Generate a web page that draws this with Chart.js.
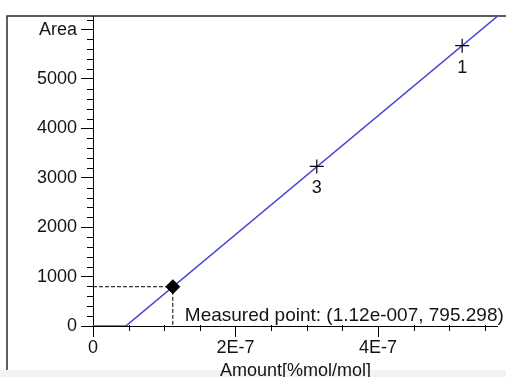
<!DOCTYPE html>
<html>
<head>
<meta charset="utf-8">
<script src="https://cdn.jsdelivr.net/npm/chart.js@4.4.1/dist/chart.umd.min.js"></script>
<style>
  html, body { margin: 0; padding: 0; background: #fff; overflow: hidden; }
  #wrap { width: 506px; height: 377px; position: relative; }
</style>
</head>
<body>
<div id="wrap"><canvas id="cal"></canvas></div>
<script>
// calibration curve (amount vs area)
const curveAmount = [0, 0.46e-7, 5.68e-7];
const curveArea = [0, 0, 6275];

// calibration levels
const calLevels = ['1', '3'];
const calAmount = [5.18e-7, 3.14e-7];
const calArea = [5675, 3230];

// measured sample
const measuredAmount = 1.12e-7;
const measuredArea = 795.298;

const xTickValues = [0, 2e-7, 4e-7];
const xTickLabels = ['0', '2E-7', '4E-7'];
const yTickValues = [0, 1000, 2000, 3000, 4000, 5000, 6000];
const yTickLabels = ['0', '1000', '2000', '3000', '4000', '5000', 'Area'];
const xTitle = 'Amount[%mol/mol]';

const FONT = '"Liberation Sans", Arial, sans-serif';
const FSIZE = 18;
const INK = '#141414';

function pts(xs, ys) {
  return xs.map((x, i) => ({ x, y: ys[i] }));
}

// 1.12e-7 -> 1.12e-007
function sciText(v) {
  const [m, e] = v.toExponential(2).split('e');
  const digits = e.replace(/[+-]/, '').padStart(3, '0');
  return `${m}e${e[0] === '-' ? '-' : ''}${digits}`;
}

const frame = {
  id: 'frame',
  beforeDraw(chart) {
    const { ctx } = chart;
    ctx.save();
    ctx.fillStyle = '#f2f2f2';
    ctx.fillRect(0, 370, chart.width, chart.height - 370);
    ctx.strokeStyle = '#2a2a2a';
    ctx.lineWidth = 1.5;
    ctx.beginPath();
    ctx.moveTo(7, 370);
    ctx.lineTo(7, 16);
    ctx.lineTo(chart.width, 16);
    ctx.stroke();
    ctx.restore();
  },
  afterDraw(chart) {
    const { ctx, chartArea } = chart;
    const x = chart.scales.x;
    const y = chart.scales.y;
    ctx.save();
    ctx.strokeStyle = '#000';
    ctx.lineWidth = 1;
    ctx.beginPath();
    // minor ticks
    for (let v = 200; v < y.max; v += 200) {
      if (v % 1000 === 0) continue;
      const py = Math.round(y.getPixelForValue(v)) + 0.5;
      ctx.moveTo(chartArea.left - 6, py);
      ctx.lineTo(chartArea.left, py);
    }
    for (let i = 1; i * 0.5e-7 < x.max; i += 1) {
      if (i % 4 === 0) continue;
      const px = Math.round(x.getPixelForValue(i * 0.5e-7)) + 0.5;
      ctx.moveTo(px, chartArea.bottom - 1);
      ctx.lineTo(px, chartArea.bottom + 5);
    }
    ctx.stroke();

    // level numbers under the calibration points
    ctx.fillStyle = INK;
    ctx.font = `${FSIZE}px ${FONT}`;
    ctx.textAlign = 'center';
    ctx.textBaseline = 'alphabetic';
    calLevels.forEach((lvl, i) => {
      const px = x.getPixelForValue(calAmount[i]);
      const py = y.getPixelForValue(calArea[i]);
      ctx.fillText(lvl, px, py + 27);
    });

    // measured point caption
    ctx.font = `19px ${FONT}`;
    ctx.textAlign = 'left';
    const mx = x.getPixelForValue(measuredAmount);
    ctx.fillText(`Measured point: (${sciText(measuredAmount)}, ${measuredArea})`,
      mx + 12, chartArea.bottom - 5);
    ctx.restore();
  },
};

new Chart(document.getElementById('cal'), {
  type: 'scatter',
  data: {
    datasets: [
      {
        data: pts(curveAmount, curveArea),
        showLine: true,
        borderColor: '#4848d2',
        borderWidth: 1.6,
        pointRadius: 0,
        order: 3,
      },
      {
        data: pts([0, measuredAmount, measuredAmount], [measuredArea, measuredArea, 0]),
        showLine: true,
        borderColor: '#000',
        borderWidth: 1,
        borderDash: [4, 2],
        pointRadius: 0,
        order: 2,
      },
      {
        data: pts(calAmount, calArea),
        pointStyle: 'cross',
        pointRadius: 7,
        borderColor: '#000',
        borderWidth: 1.2,
        order: 1,
      },
      {
        data: [{ x: measuredAmount, y: measuredArea }],
        pointStyle: 'rectRot',
        pointRadius: 7,
        backgroundColor: '#000',
        borderColor: '#000',
        borderWidth: 1,
        order: 0,
      },
    ],
  },
  options: {
    responsive: true,
    maintainAspectRatio: false,
    animation: false,
    layout: { padding: { top: 16, left: 0, right: 0, bottom: 0 } },
    plugins: { legend: { display: false }, tooltip: { enabled: false } },
    scales: {
      x: {
        type: 'linear',
        min: 0,
        max: 5.68e-7,
        afterFit(s) { s.height = 51; },
        afterBuildTicks(s) { s.ticks = xTickValues.map((value) => ({ value })); },
        border: { color: '#000', width: 1 },
        grid: { drawOnChartArea: false, tickLength: 11, tickColor: '#000' },
        ticks: {
          maxRotation: 0,
          autoSkip: false,
          padding: 0,
          color: INK,
          font: { family: FONT, size: FSIZE },
          callback: (v, i) => xTickLabels[i],
        },
        title: {
          display: true,
          text: xTitle,
          color: INK,
          font: { family: FONT, size: FSIZE },
          padding: { top: 0, bottom: -5 },
        },
      },
      y: {
        type: 'linear',
        min: 0,
        max: 6275,
        afterFit(s) { s.width = 93; },
        afterBuildTicks(s) { s.ticks = yTickValues.map((value) => ({ value })); },
        border: { color: '#000', width: 1 },
        grid: { drawOnChartArea: false, tickLength: 12, tickColor: '#000' },
        ticks: {
          autoSkip: false,
          padding: 4,
          color: INK,
          font: { family: FONT, size: FSIZE },
          callback: (v, i) => yTickLabels[i],
        },
      },
    },
  },
  plugins: [frame],
});
</script>
</body>
</html>
